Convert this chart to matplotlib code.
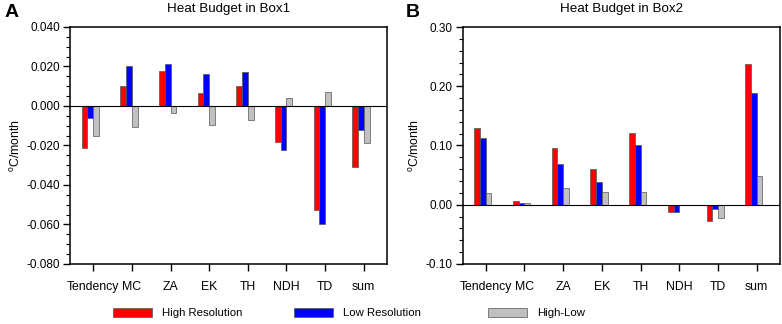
import matplotlib
matplotlib.use('Agg')
import matplotlib.pyplot as plt
from matplotlib.ticker import MultipleLocator, FormatStrFormatter
import numpy as np

plt.rcParams['font.family'] = ['Liberation Sans', 'DejaVu Sans']

terms = ['Tendency', 'MC', 'ZA', 'EK', 'TH', 'NDH', 'TD', 'sum']

# Box1
box1_high = [-0.0213, 0.0099, 0.0176, 0.0066, 0.0101, -0.0180, -0.0529, -0.0311]
box1_low = [-0.0062, 0.0200, 0.0212, 0.0160, 0.0171, -0.0225, -0.0600, -0.0124]
box1_diff = [-0.0151, -0.0104, -0.0037, -0.0096, -0.0071, 0.0042, 0.0069, -0.0188]

# Box2
box2_high = [0.130, 0.0057, 0.095, 0.060, 0.121, -0.012, -0.028, 0.237]
box2_low = [0.112, 0.003, 0.068, 0.039, 0.101, -0.012, -0.0067, 0.189]
box2_diff = [0.019, 0.003, 0.028, 0.021, 0.021, 0.0, -0.022, 0.048]

labels = ['High Resolution', 'Low Resolution', 'High-Low']
colors = ['#ff0000', '#0000ff', '#c0c0c0']

fig = plt.figure(figsize=(7.82, 3.24), dpi=100)
axA = fig.add_axes([70/782, 1-264/324, 317/782, 237/324])
axB = fig.add_axes([462.5/782, 1-264/324, 317.5/782, 237/324])

x = np.arange(1, len(terms) + 1)
w = 0.148


def panel(ax, series, title, letter, lx, ylim, major, minor, fmt):
    for i, (vals, c) in enumerate(zip(series, colors)):
        ax.bar(x + (i - 2) * w, vals, width=w, align='edge', color=c,
               edgecolor='#555555', linewidth=0.5, label=labels[i], zorder=2)
    ax.axhline(0, color='black', linewidth=0.8, zorder=3)
    ax.set_xlim(0.4, 8.6)
    ax.set_ylim(*ylim)
    ax.set_xticks(x)
    ax.set_xticklabels(terms, fontsize=8.8)
    ax.yaxis.set_major_locator(MultipleLocator(major))
    ax.yaxis.set_minor_locator(MultipleLocator(minor))
    ax.yaxis.set_major_formatter(FormatStrFormatter(fmt))
    ax.tick_params(axis='y', which='major', direction='out', length=5, width=1, labelsize=8.5, pad=2)
    ax.tick_params(axis='y', which='minor', direction='out', length=3, width=0.8)
    ax.tick_params(axis='x', which='major', direction='out', length=5, width=1, pad=7)
    for s in ax.spines.values():
        s.set_linewidth(1.1)
    ax.set_ylabel(r'$\mathregular{^o}$C/month', fontsize=8.8, labelpad=3)
    ax.set_title(title, fontsize=9.6, pad=11)
    ax.text(lx, 1.06, letter, transform=ax.transAxes, fontsize=14,
            fontweight='bold', va='center', ha='left')


panel(axA, [box1_high, box1_low, box1_diff], 'Heat Budget in Box1', 'A', -0.205,
      (-0.08, 0.04), 0.02, 0.005, '%.3f')
panel(axB, [box2_high, box2_low, box2_diff], 'Heat Budget in Box2', 'B', -0.178,
      (-0.10, 0.30), 0.10, 0.02, '%.2f')

# one legend entry per key, placed like the original
h, l = axA.get_legend_handles_labels()
key_left = [103, 284, 478]
for hi, li, kx in zip(h, l, key_left):
    fig.legend([hi], [li], loc='center left', bbox_to_anchor=(kx/782, 1-313/324),
               frameon=False, fontsize=8.2, handlelength=3.4, handleheight=0.8,
               handletextpad=0.9)

fig.savefig('out.png', dpi=100)
